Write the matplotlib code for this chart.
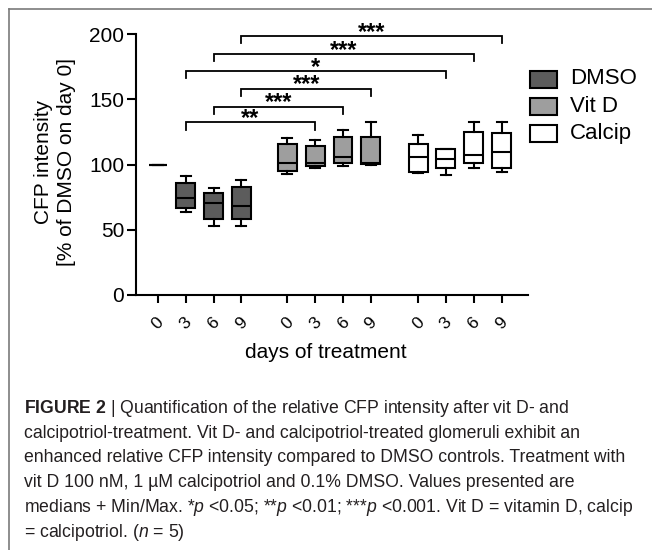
import matplotlib
matplotlib.use('Agg')
import matplotlib.pyplot as plt
from matplotlib.patches import Rectangle
from matplotlib.lines import Line2D

plt.rcParams['font.family'] = ['Liberation Sans', 'DejaVu Sans']
plt.rcParams['mathtext.fontset'] = 'custom'
plt.rcParams['mathtext.rm'] = 'Liberation Sans'
plt.rcParams['mathtext.it'] = 'Liberation Sans:italic'
plt.rcParams['mathtext.bf'] = 'Liberation Sans:bold'

# ---------------- data ----------------
groups = ['DMSO', 'Vit D', 'Calcip']
day_labels = ['0', '3', '6', '9']

dmso_lo  = [100, 63.4, 52.9, 52.9]
dmso_q1  = [100, 66.7, 58.0, 58.5]
dmso_med = [100, 74.3, 70.7, 68.2]
dmso_q3  = [100, 85.6, 77.9, 83.0]
dmso_hi  = [100, 91.2, 82.0, 88.1]

vitd_lo  = [92.7, 97.6, 99.1, 100.0]
vitd_q1  = [95.3, 98.9, 100.9, 100.5]
vitd_med = [101.1, 100.9, 106.0, 101.5]
vitd_q3  = [115.7, 114.4, 120.8, 120.8]
vitd_hi  = [120.6, 118.8, 126.4, 132.6]

calc_lo  = [93.5, 92.0, 97.6, 94.5]
calc_q1  = [94.0, 97.1, 100.9, 97.1]
calc_med = [106.0, 103.9, 107.3, 109.8]
calc_q3  = [115.7, 111.9, 124.7, 123.9]
calc_hi  = [122.6, 111.9, 132.3, 132.3]

# significance brackets
sig_from_group = [0, 0, 0, 0, 0, 0]
sig_from_day   = [1, 2, 3, 1, 2, 3]
sig_to_group   = [1, 1, 1, 2, 2, 2]
sig_to_day     = [1, 2, 3, 1, 2, 3]
sig_height     = [132.3, 144.3, 158.1, 171.6, 184.7, 198.5]
sig_label      = ['**', '***', '***', '*', '***', '***']

caption_lines = [
    r"$\mathbf{FIGURE\ 2}$ | Quantification of the relative CFP intensity after vit D- and",
    "calcipotriol-treatment. Vit D- and calcipotriol-treated glomeruli exhibit an",
    "enhanced relative CFP intensity compared to DMSO controls. Treatment with",
    "vit D 100 nM, 1 µM calcipotriol and 0.1% DMSO. Values presented are",
    r"medians + Min/Max. *$\it{p}$ <0.05; **$\it{p}$ <0.01; ***$\it{p}$ <0.001. Vit D = vitamin D, calcip",
    r"= calcipotriol. ($\it{n}$ = 5)",
]

# ---------------- layout ----------------
W, H = 652, 550
fig = plt.figure(figsize=(W / 100, H / 100), dpi=100)
fig.patch.set_facecolor('white')

def fx(px):
    return px / W

def fy(py):
    return 1 - py / H

ax = fig.add_axes([fx(136), fy(295), fx(528) - fx(136), fy(34) - fy(295)])

group_start = [0.0, 4.65, 9.35]
face = ['#5c5c5c', '#9e9e9e', '#ffffff']
all_stats = [
    (dmso_lo, dmso_q1, dmso_med, dmso_q3, dmso_hi),
    (vitd_lo, vitd_q1, vitd_med, vitd_q3, vitd_hi),
    (calc_lo, calc_q1, calc_med, calc_q3, calc_hi),
]

def pos(g, d):
    return group_start[g] + d

lw = 1.5
tick_pos = []
for g, (lo, q1, med, q3, hi) in enumerate(all_stats):
    stats = []
    for d in range(4):
        stats.append(dict(med=med[d], q1=q1[d], q3=q3[d], whislo=lo[d], whishi=hi[d], fliers=[]))
    p = [pos(g, d) for d in range(4)]
    tick_pos += p
    ax.bxp(stats, positions=p, widths=0.68, capwidths=0.36, patch_artist=True, showfliers=False,
           boxprops=dict(facecolor=face[g], edgecolor='black', linewidth=lw),
           medianprops=dict(color='black', linewidth=lw),
           whiskerprops=dict(color='black', linewidth=lw),
           capprops=dict(color='black', linewidth=lw),
           manage_ticks=False)

ax.set_xlim(-0.79, 13.3)
ax.set_ylim(0, 200)
ax.set_yticks([0, 50, 100, 150, 200])
ax.set_xticks(tick_pos)
ax.set_xticklabels(day_labels * 3, rotation=45, ha='center', va='top', fontsize=12.5)
ax.tick_params(axis='y', labelsize=15, length=6.5, width=1.5, pad=2, colors='black')
ax.tick_params(axis='x', length=6, width=1.5, pad=8)
for s in ['top', 'right']:
    ax.spines[s].set_visible(False)
for s in ['left', 'bottom']:
    ax.spines[s].set_linewidth(1.5)

# brackets
leg = 5.5
for i in range(len(sig_label)):
    x1 = pos(sig_from_group[i], sig_from_day[i])
    x2 = pos(sig_to_group[i], sig_to_day[i])
    h = sig_height[i]
    ax.plot([x1, x1, x2, x2], [h - leg, h, h, h - leg], color='black', lw=1.3,
            clip_on=False, solid_joinstyle='miter')
    ax.annotate(sig_label[i], xy=((x1 + x2) / 2, h), xytext=(0, -2.0), textcoords='offset points',
                ha='center', va='baseline', fontsize=17, fontweight='bold', annotation_clip=False)

# axis labels
fig.text(fx(55), fy(162), 'CFP intensity\n[% of DMSO on day 0]', rotation=90, ha='center', va='center',
         fontsize=15, linespacing=1.2, multialignment='center')
fig.text(fx(326), fy(352), 'days of treatment', ha='center', va='center', fontsize=15)

# legend
for i, g in enumerate(groups):
    cy = [79, 106.7, 133.3][i]
    fig.add_artist(Rectangle((fx(530), fy(cy + 8.5)), fx(557) - fx(530), (17) / H,
                             transform=fig.transFigure, facecolor=face[i], edgecolor='black', lw=1.5))
    fig.text(fx(570), fy(cy), g, fontsize=16, ha='left', va='center')

# frame lines
fig.add_artist(Line2D([fx(9), 1], [fy(8.5), fy(8.5)], transform=fig.transFigure, color='#7a7a7a', lw=1.2))
fig.add_artist(Line2D([fx(9), fx(9)], [fy(8.5), 0], transform=fig.transFigure, color='#7a7a7a', lw=1.2))

# caption
renderer = fig.canvas.get_renderer()
t = fig.text(0, 0, caption_lines[2], fontsize=12)
w = t.get_window_extent(renderer).width
t.remove()
cap_size = 12 * 603 / w
baselines = [413, 438, 462, 487, 512, 537]
for line, b in zip(caption_lines, baselines):
    fig.text(fx(24), fy(b), line, fontsize=cap_size, ha='left', va='baseline', color='#231f20')

fig.savefig('out.png', dpi=100)
